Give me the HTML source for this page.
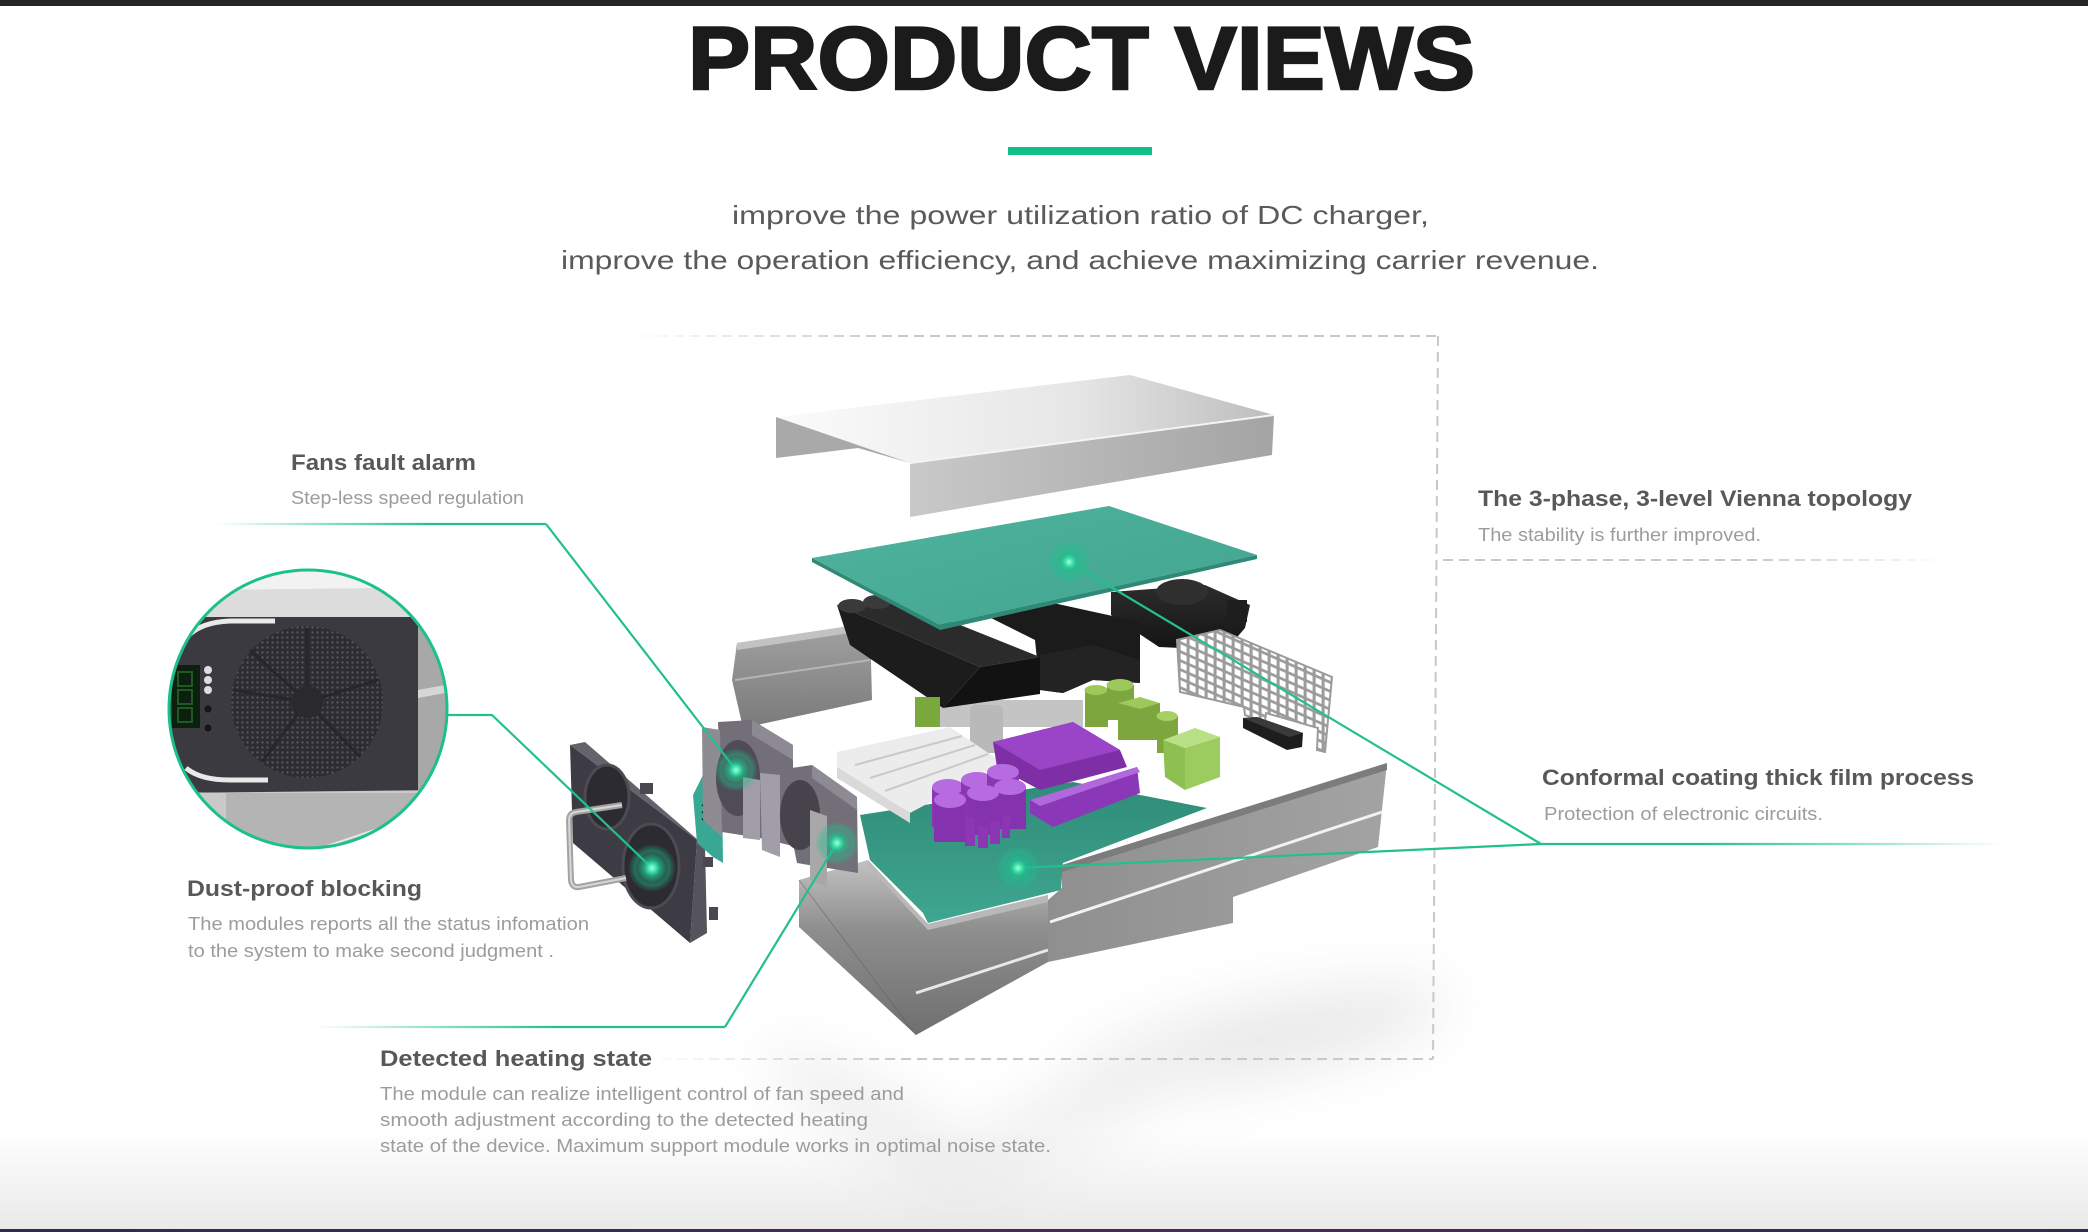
<!DOCTYPE html>
<html><head><meta charset="utf-8"><style>
html,body{margin:0;padding:0;background:#fff;}
svg{display:block;}
text{font-family:"Liberation Sans",Arial,sans-serif;}
</style></head><body>
<svg width="2088" height="1232" viewBox="0 0 2088 1232" xmlns="http://www.w3.org/2000/svg">
<defs>
<linearGradient id="bgBottom" x1="0" y1="0" x2="0" y2="1"><stop offset="0" stop-color="#ffffff"/><stop offset="1" stop-color="#e9e9ea"/></linearGradient>
<linearGradient id="band" x1="0" y1="0" x2="1" y2="0"><stop offset="0" stop-color="#2a2d4a"/><stop offset="0.6" stop-color="#4b2b55"/><stop offset="1" stop-color="#2c2d4a"/></linearGradient>
<linearGradient id="fadeL1" gradientUnits="userSpaceOnUse" x1="215" y1="0" x2="430" y2="0"><stop offset="0" stop-color="#22c08c" stop-opacity="0"/><stop offset="1" stop-color="#22c08c"/></linearGradient>
<linearGradient id="fadeL2" gradientUnits="userSpaceOnUse" x1="315" y1="0" x2="560" y2="0"><stop offset="0" stop-color="#22c08c" stop-opacity="0"/><stop offset="1" stop-color="#22c08c"/></linearGradient>
<linearGradient id="fadeR" gradientUnits="userSpaceOnUse" x1="1700" y1="0" x2="2005" y2="0"><stop offset="0" stop-color="#22c08c"/><stop offset="1" stop-color="#22c08c" stop-opacity="0"/></linearGradient>
<linearGradient id="dashTop" gradientUnits="userSpaceOnUse" x1="620" y1="0" x2="900" y2="0"><stop offset="0" stop-color="#c8c8c8" stop-opacity="0"/><stop offset="1" stop-color="#c8c8c8"/></linearGradient>
<linearGradient id="dashBot" gradientUnits="userSpaceOnUse" x1="640" y1="0" x2="900" y2="0"><stop offset="0" stop-color="#c8c8c8" stop-opacity="0"/><stop offset="1" stop-color="#c8c8c8"/></linearGradient>
<linearGradient id="dashVi" gradientUnits="userSpaceOnUse" x1="1750" y1="0" x2="1950" y2="0"><stop offset="0" stop-color="#c8c8c8"/><stop offset="1" stop-color="#c8c8c8" stop-opacity="0"/></linearGradient>
<linearGradient id="lidTop" x1="0" y1="0" x2="1" y2="0"><stop offset="0" stop-color="#fbfbfb"/><stop offset="0.6" stop-color="#e6e6e6"/><stop offset="1" stop-color="#bdbdbd"/></linearGradient>
<linearGradient id="lidFront" x1="0" y1="0" x2="1" y2="0"><stop offset="0" stop-color="#c9c9c9"/><stop offset="1" stop-color="#a4a4a4"/></linearGradient>
<linearGradient id="pcb" x1="0" y1="0" x2="1" y2="1"><stop offset="0" stop-color="#4fb39d"/><stop offset="1" stop-color="#42a48f"/></linearGradient>
<linearGradient id="pcb2" x1="0" y1="0" x2="0" y2="1"><stop offset="0" stop-color="#2f8c78"/><stop offset="1" stop-color="#3fa690"/></linearGradient>
<linearGradient id="blk" x1="0" y1="0" x2="0" y2="1"><stop offset="0" stop-color="#2c2c2c"/><stop offset="1" stop-color="#141414"/></linearGradient>
<linearGradient id="wall" x1="0" y1="0" x2="1" y2="0"><stop offset="0" stop-color="#8f8f8f"/><stop offset="1" stop-color="#a3a3a3"/></linearGradient>
<linearGradient id="body" x1="0" y1="0" x2="0" y2="1"><stop offset="0" stop-color="#c2c2c2"/><stop offset="0.4" stop-color="#8e8e8e"/><stop offset="1" stop-color="#6f6f6f"/></linearGradient>
<linearGradient id="rail" x1="0" y1="0" x2="0" y2="1"><stop offset="0" stop-color="#a2a2a2"/><stop offset="1" stop-color="#7a7a7a"/></linearGradient>
<radialGradient id="glow"><stop offset="0" stop-color="#a6ffe2"/><stop offset="0.18" stop-color="#3fe0a8"/><stop offset="0.35" stop-color="#1fbf8c" stop-opacity="0.75"/><stop offset="0.6" stop-color="#1fbf8c" stop-opacity="0.35"/><stop offset="0.72" stop-color="#1fbf8c" stop-opacity="0.45"/><stop offset="1" stop-color="#1fbf8c" stop-opacity="0"/></radialGradient>
<pattern id="mesh" width="9" height="9" patternUnits="userSpaceOnUse" patternTransform="skewY(24)"><rect width="9" height="9" fill="#9b9b9b"/><rect x="1.6" y="1.6" width="6" height="6" fill="#ffffff"/></pattern>
<pattern id="perf" width="5" height="5" patternUnits="userSpaceOnUse"><rect width="5" height="5" fill="#2c2c31"/><circle cx="2.5" cy="2.5" r="1.2" fill="#55555d"/></pattern>
<filter id="blur" x="-50%" y="-50%" width="200%" height="200%"><feGaussianBlur stdDeviation="28"/></filter>
<clipPath id="cc"><circle cx="308" cy="709" r="139"/></clipPath>
</defs>

<!-- background -->
<rect width="2088" height="1232" fill="#ffffff"/>
<rect x="0" y="1130" width="2088" height="100" fill="url(#bgBottom)"/>
<rect x="0" y="0" width="2088" height="6" fill="#262626"/>
<rect x="0" y="1229" width="2088" height="3" fill="url(#band)"/>

<!-- shadows -->
<g filter="url(#blur)" opacity="0.4">
<ellipse cx="1260" cy="1040" rx="190" ry="38" fill="#c9c9c9" transform="rotate(-12 1260 1040)"/>
<ellipse cx="880" cy="1120" rx="130" ry="30" fill="#d3d3d3" transform="rotate(30 880 1120)"/>
<ellipse cx="1080" cy="1110" rx="150" ry="30" fill="#d7d7d7" transform="rotate(-25 1080 1110)"/>
</g>

<!-- title -->
<text x="688" y="89" font-size="89" font-weight="bold" fill="#1b1b1b" stroke="#1b1b1b" stroke-width="2.5" textLength="787" lengthAdjust="spacingAndGlyphs">PRODUCT VIEWS</text>
<rect x="1008" y="147" width="144" height="8" fill="#0fbf88"/>
<text x="732" y="224" font-size="26" fill="#5a5a5a" textLength="697" lengthAdjust="spacingAndGlyphs">improve the power utilization ratio of DC charger,</text>
<text x="561" y="269" font-size="26" fill="#5a5a5a" textLength="1038" lengthAdjust="spacingAndGlyphs">improve the operation efficiency, and achieve maximizing carrier revenue.</text>

<!-- dashed box -->
<g fill="none" stroke-width="2" stroke-dasharray="10 6">
<line x1="626" y1="336" x2="1438" y2="336" stroke="url(#dashTop)"/>
<line x1="1438" y1="336" x2="1433" y2="1059" stroke="#c8c8c8"/>
<line x1="645" y1="1059" x2="1433" y2="1059" stroke="url(#dashBot)"/>
<line x1="1443" y1="560" x2="1948" y2="560" stroke="url(#dashVi)"/>
</g>

<!-- LID -->
<polygon points="776,417 1130,375 1274,415 910,463" fill="url(#lidTop)"/>
<polygon points="910,463 1274,415 1272,455 910,517" fill="url(#lidFront)"/>
<polygon points="776,417 910,463 858,448 776,458" fill="#a9a9a9"/>
<line x1="910" y1="463" x2="1274" y2="415" stroke="#f4f4f4" stroke-width="2"/>

<!-- left rail -->
<polygon points="737,643 870,623 872,700 743,728 732,680" fill="url(#rail)"/>
<polygon points="737,643 870,623 870,630 737,650" fill="#c2c2c2"/>
<line x1="735" y1="680" x2="870" y2="660" stroke="#b5b5b5" stroke-width="2"/>

<!-- black components -->
<polygon points="1111,592 1205,585 1250,605 1245,628 1226,650 1159,647 1111,615" fill="url(#blk)"/>
<ellipse cx="1182" cy="592" rx="26" ry="13" fill="#2f2f2f"/>
<rect x="1227" y="600" width="20" height="22" fill="#1e1e1e"/>
<polygon points="985,615 1053,603 1140,622 1140,683 1093,680 1063,693 1040,690 1035,640" fill="#1b1b1b"/>
<polygon points="1040,655 1093,645 1140,660 1140,683 1093,680 1063,693 1040,690" fill="#232323"/>
<rect x="940" y="700" width="143" height="27" fill="#c4c4c4"/>
<rect x="970" y="705" width="33" height="48" rx="6" fill="#b9b9b9"/>
<!-- big black box -->
<polygon points="837,605 893,598 1040,657 980,667" fill="#2b2b2b"/>
<polygon points="837,605 980,667 943,708 850,645" fill="#1c1c1c"/>
<polygon points="980,667 1040,657 1040,694 943,708" fill="#121212"/>
<ellipse cx="852" cy="606" rx="14" ry="7" fill="#3a3a3a"/>
<ellipse cx="877" cy="602" rx="14" ry="7" fill="#3a3a3a"/>

<!-- top PCB -->
<polygon points="812,558 1109,506 1257,555 939,625" fill="url(#pcb)"/>
<polygon points="812,558 939,625 1257,555 1257,559 940,630 812,562" fill="#2e8a76"/>

<!-- mesh -->
<polygon points="1177,640 1220,630 1332,677 1325,752 1317,750 1318,728 1266,713 1265,722 1245,715 1244,707 1180,692" fill="url(#mesh)" stroke="#9b9b9b" stroke-width="2"/>
<polygon points="1243,728 1243,718 1257,717 1303,733 1302,747 1287,750" fill="#1d1d1d"/>
<polygon points="1243,718 1257,717 1303,733 1289,737" fill="#3a3a3a"/>

<!-- lower PCB -->
<polygon points="860,815 1073,782 1207,808 1063,863 1061,890 928,923 923,913 870,860" fill="url(#pcb2)"/>

<!-- white heatsink -->
<polygon points="837,752 950,727 1003,763 910,813 837,767" fill="#ececec"/>
<g stroke="#c9c9c9" stroke-width="2">
<line x1="855" y1="765" x2="962" y2="736"/><line x1="870" y1="778" x2="975" y2="745"/><line x1="885" y1="791" x2="988" y2="754"/>
</g>
<polygon points="837,767 910,813 910,823 837,778" fill="#d9d9d9"/>

<!-- green -->
<rect x="915" y="697" width="25" height="30" fill="#7aa83c"/>
<g fill="#7ea63e">
<rect x="1085" y="690" width="23" height="37"/><ellipse cx="1096" cy="690" rx="11.5" ry="5" fill="#9cc95a"/>
<rect x="1107" y="685" width="27" height="35"/><ellipse cx="1120" cy="685" rx="13.5" ry="6" fill="#9cc95a"/>
<rect x="1118" y="703" width="42" height="37"/><polygon points="1118,703 1140,697 1160,703 1140,709" fill="#9cc95a"/>
<rect x="1157" y="716" width="21" height="37"/><ellipse cx="1167" cy="716" rx="10.5" ry="5" fill="#a6d162"/>
</g>
<polygon points="1163,740 1185,748 1185,790 1165,777" fill="#8dbf52"/>
<polygon points="1185,748 1220,737 1220,777 1185,790" fill="#9ccc5f"/>
<polygon points="1163,740 1195,728 1220,737 1185,748" fill="#b8e085"/>

<!-- purple -->
<polygon points="993,742 1073,722 1120,750 1127,767 1040,790 997,767" fill="#7e2fa6"/>
<polygon points="993,742 1073,722 1120,750 1040,770" fill="#9a45c7"/>
<polygon points="1030,800 1137,767 1140,793 1053,827 1030,813" fill="#8a37b8"/>
<polygon points="1030,800 1137,767 1140,772 1040,806" fill="#b068da"/>
<g>
<rect x="932" y="787" width="32" height="40" fill="#8c36b6"/><ellipse cx="948" cy="787" rx="16" ry="8" fill="#b66ce0"/>
<rect x="961" y="780" width="32" height="40" fill="#8c36b6"/><ellipse cx="977" cy="780" rx="16" ry="8" fill="#b66ce0"/>
<rect x="987" y="772" width="32" height="40" fill="#8c36b6"/><ellipse cx="1003" cy="772" rx="16" ry="8" fill="#b66ce0"/>
<rect x="994" y="787" width="32" height="42" fill="#8432ad"/><ellipse cx="1010" cy="787" rx="16" ry="8" fill="#b66ce0"/>
<rect x="967" y="793" width="32" height="42" fill="#8432ad"/><ellipse cx="983" cy="793" rx="16" ry="8" fill="#b66ce0"/>
<rect x="934" y="800" width="32" height="42" fill="#8432ad"/><ellipse cx="950" cy="800" rx="16" ry="8" fill="#b66ce0"/>
<rect x="965" y="818" width="10" height="28" fill="#8c36b6"/><rect x="978" y="826" width="10" height="22" fill="#8c36b6"/><rect x="990" y="822" width="10" height="22" fill="#8c36b6"/><rect x="1002" y="816" width="8" height="22" fill="#8c36b6"/>
</g>

<!-- chassis body -->
<polygon points="799,880 868,860 928,924 1048,895 1048,962 916,1035 799,927" fill="url(#body)"/>
<polygon points="868,860 928,924 1048,895 1048,902 928,930 868,866" fill="#b8b8b8"/>
<line x1="916" y1="993" x2="1048" y2="950" stroke="#e8e8e8" stroke-width="3"/>
<line x1="799" y1="880" x2="916" y2="1035" stroke="#5e5e5e" stroke-width="1" opacity="0.5"/>
<!-- right wall -->
<polygon points="1048,900 1062,888 1062,865 1387,763 1378,847 1233,897 1233,923 1048,962" fill="url(#wall)"/>
<polygon points="1062,865 1387,763 1387,770 1062,872" fill="#7c7c7c"/>
<line x1="1050" y1="922" x2="1382" y2="812" stroke="#f2f2f2" stroke-width="3"/>

<!-- filter frame (dust-proof) -->
<polygon points="570,745 585,742 705,846 697,840" fill="#66636c"/>
<polygon points="697,840 705,846 707,933 690,943" fill="#56535c"/>
<polygon points="570,745 697,840 690,943 573,843" fill="#3d3b43"/>
<ellipse cx="607" cy="797" rx="22" ry="32" fill="#2d2b32" stroke="#4d4a54" stroke-width="3"/>
<ellipse cx="651" cy="866" rx="28" ry="42" fill="#2d2b32" stroke="#4d4a54" stroke-width="3"/>
<rect x="640" y="783" width="13" height="11" fill="#4a4750"/>
<rect x="703" y="857" width="10" height="10" fill="#4a4750"/>
<rect x="709" y="907" width="9" height="13" fill="#4a4750"/>
<path d="M622,805 L576,812 Q569,813 569,821 L571,880 Q572,888 579,887 L626,878" fill="none" stroke="#a3a3a3" stroke-width="6"/>
<path d="M622,805 L576,812 Q569,813 569,821 L571,880 Q572,888 579,887 L626,878" fill="none" stroke="#d6d6d6" stroke-width="2"/>
<!-- small teal pcb -->
<polygon points="693,795 703,775 722,787 723,863 713,857 697,843" fill="#3aa795"/>
<g stroke="#1d1d1d" stroke-width="2"><line x1="702" y1="805" x2="712" y2="808"/><line x1="702" y1="812" x2="712" y2="815"/><line x1="702" y1="819" x2="712" y2="822"/></g>

<!-- fan 1 -->
<polygon points="718,722 752,720 793,745 793,846 760,838 722,832" fill="#736f79"/>
<polygon points="752,720 793,745 793,760 752,735" fill="#8e8a94"/>
<polygon points="702,727 720,730 722,837 703,820" fill="#8e8b93"/>
<ellipse cx="738" cy="778" rx="22" ry="38" fill="#4f4c55"/>
<polygon points="743,777 760,780 760,840 743,838" fill="#a09da6"/>
<!-- fan 2 -->
<polygon points="778,770 812,765 857,797 858,873 797,863" fill="#736f79"/>
<polygon points="812,765 857,797 857,810 812,778" fill="#8e8a94"/>
<ellipse cx="800" cy="815" rx="20" ry="35" fill="#46434c"/>
<polygon points="760,773 780,775 780,857 762,850" fill="#a19ea7"/>
<polygon points="810,810 827,816 827,887 810,880" fill="#a8a8a8"/>

<!-- connectors -->
<g fill="none" stroke-width="2.2" stroke-linejoin="round">
<line x1="215" y1="524" x2="546" y2="524" stroke="url(#fadeL1)"/>
<line x1="546" y1="524" x2="736" y2="770" stroke="#22c08c"/>
<polyline points="447,715 492,715 652,868" stroke="#22c08c"/>
<line x1="315" y1="1027" x2="725" y2="1027" stroke="url(#fadeL2)"/>
<line x1="725" y1="1027" x2="837" y2="843" stroke="#22c08c"/>
<line x1="1069" y1="562" x2="1541" y2="844" stroke="#22c08c"/>
<line x1="1018" y1="868" x2="1541" y2="844" stroke="#22c08c"/>
<line x1="1541" y1="844" x2="2005" y2="844" stroke="url(#fadeR)"/>
</g>

<!-- glow dots -->
<circle cx="736" cy="770" r="22" fill="url(#glow)"/>
<circle cx="652" cy="868" r="24" fill="url(#glow)"/>
<circle cx="837" cy="843" r="22" fill="url(#glow)"/>
<circle cx="1069" cy="562" r="22" fill="url(#glow)"/>
<circle cx="1018" cy="868" r="22" fill="url(#glow)"/>

<!-- inset circle -->
<g clip-path="url(#cc)">
<rect x="160" y="560" width="300" height="300" fill="#f2f2f2"/>
<polygon points="205,590 398,588 450,632 450,800 165,800 165,618" fill="#c8c8c8"/>
<polygon points="205,590 398,588 418,617 170,617" fill="#dcdcdc"/>
<polygon points="418,617 450,632 450,792 418,795" fill="#a8a8a8"/>
<polygon points="418,690 450,684 450,692 418,698" fill="#d6d6d6"/>
<polygon points="165,617 418,617 418,795 165,792" fill="#3b3a40"/>
<polygon points="165,793 450,790 450,860 165,860" fill="#c9c9c9"/>
<polygon points="226,793 420,793 440,860 226,860" fill="#b4b4b4"/>
<line x1="300" y1="855" x2="440" y2="808" stroke="#e6e6e6" stroke-width="2"/>
<circle cx="307" cy="702" r="76" fill="url(#perf)"/>
<g stroke="#27272b" stroke-width="3" fill="none">
<line x1="307" y1="702" x2="307" y2="628"/><line x1="307" y1="702" x2="378" y2="680"/><line x1="307" y1="702" x2="360" y2="757"/><line x1="307" y1="702" x2="262" y2="762"/><line x1="307" y1="702" x2="234" y2="690"/><line x1="307" y1="702" x2="250" y2="650"/>
</g>
<circle cx="307" cy="702" r="16" fill="#2a2a2e"/>
<path d="M186,638 Q200,622 230,621 L275,621" fill="none" stroke="#e9e9e9" stroke-width="5"/>
<path d="M186,768 Q200,780 230,780 L268,780" fill="none" stroke="#e9e9e9" stroke-width="5"/>
<rect x="172" y="665" width="28" height="63" fill="#0d200f"/>
<g fill="none" stroke="#1e5a22" stroke-width="2"><rect x="178" y="672" width="14" height="14"/><rect x="178" y="690" width="14" height="14"/><rect x="178" y="708" width="14" height="14"/></g>
<circle cx="208" cy="670" r="4" fill="#dedede"/><circle cx="208" cy="680" r="4" fill="#dedede"/><circle cx="208" cy="690" r="4" fill="#dedede"/>
<circle cx="208" cy="709" r="3.5" fill="#151515"/><circle cx="208" cy="728" r="3.5" fill="#151515"/>
</g>
<circle cx="308" cy="709" r="139" fill="none" stroke="#1cc08b" stroke-width="3"/>

<!-- labels -->
<g fill="#585858" font-weight="bold" font-size="22">
<text x="291" y="470" textLength="185" lengthAdjust="spacingAndGlyphs">Fans fault alarm</text>
<text x="187" y="896" textLength="235" lengthAdjust="spacingAndGlyphs">Dust-proof blocking</text>
<text x="1478" y="506" textLength="434" lengthAdjust="spacingAndGlyphs">The 3-phase, 3-level Vienna topology</text>
<text x="1542" y="785" textLength="432" lengthAdjust="spacingAndGlyphs">Conformal coating thick film process</text>
<text x="380" y="1066" textLength="272" lengthAdjust="spacingAndGlyphs">Detected heating state</text>
</g>
<g fill="#9c9c9c" font-size="18">
<text x="291" y="504" textLength="233" lengthAdjust="spacingAndGlyphs">Step-less speed regulation</text>
<text x="188" y="930" textLength="401" lengthAdjust="spacingAndGlyphs">The modules reports all the status infomation</text>
<text x="188" y="957" textLength="366" lengthAdjust="spacingAndGlyphs">to the system to make second judgment .</text>
<text x="1478" y="541" textLength="283" lengthAdjust="spacingAndGlyphs">The stability is further improved.</text>
<text x="1544" y="820" textLength="279" lengthAdjust="spacingAndGlyphs">Protection of electronic circuits.</text>
<text x="380" y="1100" textLength="524" lengthAdjust="spacingAndGlyphs">The module can realize intelligent control of fan speed and</text>
<text x="380" y="1126" textLength="488" lengthAdjust="spacingAndGlyphs">smooth adjustment according to the detected heating</text>
<text x="380" y="1152" textLength="671" lengthAdjust="spacingAndGlyphs">state of the device.  Maximum support module works in optimal noise state.</text>
</g>
</svg>
</body></html>
